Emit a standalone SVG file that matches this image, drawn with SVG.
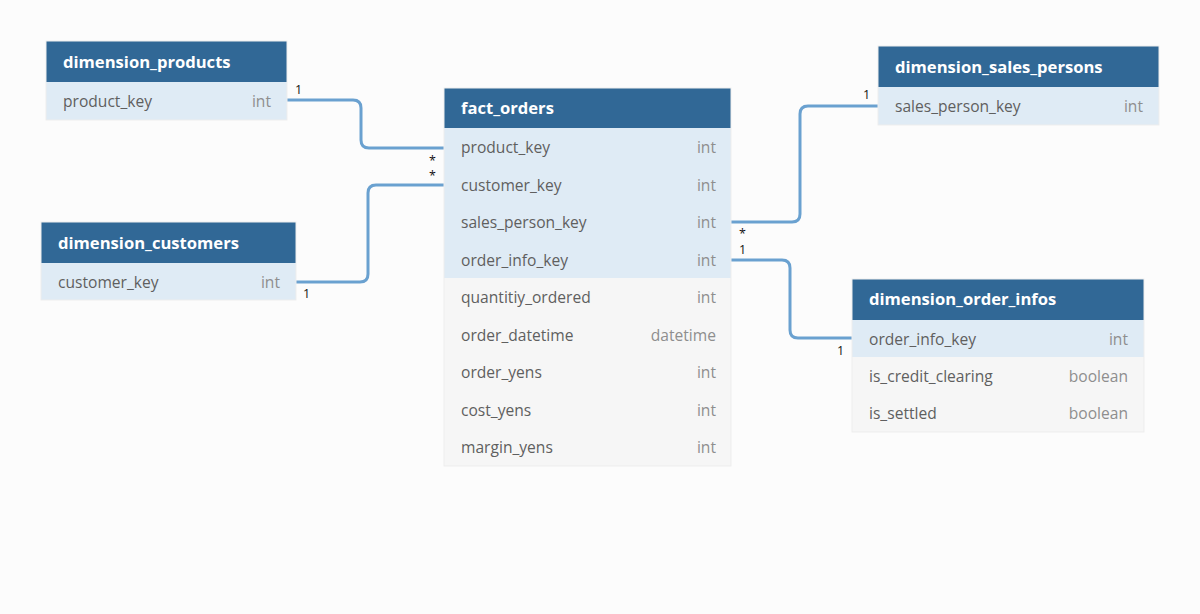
<svg xmlns="http://www.w3.org/2000/svg" width="1200" height="614" viewBox="0 0 1200 614">
<style>
.bg{fill:#fcfcfc}
.hd{fill:#316896}
.pk{fill:#dfebf5}
.rw{fill:#f6f6f6}
.bd{fill:none;stroke:#ededed;stroke-width:1}
.ht{font-family:"Open Sans","Liberation Sans",sans-serif;font-size:16.6px;font-weight:bold;fill:#ffffff}
.ft{font-family:"Open Sans","Liberation Sans",sans-serif;font-size:15.6px;fill:#5f5f5f}
.ty{font-family:"Open Sans","Liberation Sans",sans-serif;font-size:15.6px;fill:#8e8e8e;text-anchor:end}
.cn{fill:none;stroke:#6aa1d0;stroke-width:3}
.lb{font-family:"Open Sans","Liberation Sans",sans-serif;font-size:12.5px;fill:#111111}
</style>
<rect class="bg" x="0" y="0" width="1200" height="614"/>
<g id="connectors">
<path class="cn" d="M287,100 H353 Q361,100 361,108 V140 Q361,148 369,148 H444"/>
<path class="cn" d="M296,282 H360 Q368,282 368,274 V193 Q368,185 376,185 H444"/>
<path class="cn" d="M731,222 H792 Q800,222 800,214 V114 Q800,106 808,106 H878"/>
<path class="cn" d="M731,260 H782 Q790,260 790,268 V330 Q790,338 798,338 H852"/>
<text class="lb" x="295" y="94">1</text>
<text class="lb" x="429" y="165">*</text>
<text class="lb" x="429" y="180">*</text>
<text class="lb" x="303" y="298">1</text>
<text class="lb" x="739" y="238">*</text>
<text class="lb" x="739" y="254">1</text>
<text class="lb" x="863" y="99">1</text>
<text class="lb" x="837" y="355">1</text>
</g>
<g id="dimension_products">
<rect class="hd" x="46" y="41" width="241" height="41"/>
<rect class="pk" x="46" y="82" width="241" height="38"/>
<rect class="bd" x="46" y="41" width="241" height="79"/>
<text class="ht" x="63" y="68">dimension_products</text>
<text class="ft" x="63" y="107">product_key</text>
<text class="ty" x="271" y="107">int</text>
</g>
<g id="dimension_customers">
<rect class="hd" x="41" y="222" width="255" height="41"/>
<rect class="pk" x="41" y="263" width="255" height="37"/>
<rect class="bd" x="41" y="222" width="255" height="78"/>
<text class="ht" x="58" y="249">dimension_customers</text>
<text class="ft" x="58" y="288">customer_key</text>
<text class="ty" x="280" y="288">int</text>
</g>
<g id="fact_orders">
<rect class="hd" x="444" y="88" width="287" height="40"/>
<rect class="pk" x="444" y="128" width="287" height="150"/>
<rect class="rw" x="444" y="278" width="287" height="188"/>
<rect class="bd" x="444" y="88" width="287" height="378"/>
<text class="ht" x="461" y="114">fact_orders</text>
<text class="ft" x="461" y="153">product_key</text><text class="ty" x="716" y="153">int</text>
<text class="ft" x="461" y="191">customer_key</text><text class="ty" x="716" y="191">int</text>
<text class="ft" x="461" y="228">sales_person_key</text><text class="ty" x="716" y="228">int</text>
<text class="ft" x="461" y="266">order_info_key</text><text class="ty" x="716" y="266">int</text>
<text class="ft" x="461" y="303">quantitiy_ordered</text><text class="ty" x="716" y="303">int</text>
<text class="ft" x="461" y="341">order_datetime</text><text class="ty" x="716" y="341">datetime</text>
<text class="ft" x="461" y="378">order_yens</text><text class="ty" x="716" y="378">int</text>
<text class="ft" x="461" y="416">cost_yens</text><text class="ty" x="716" y="416">int</text>
<text class="ft" x="461" y="453">margin_yens</text><text class="ty" x="716" y="453">int</text>
</g>
<g id="dimension_sales_persons">
<rect class="hd" x="878" y="46" width="281" height="41"/>
<rect class="pk" x="878" y="87" width="281" height="38"/>
<rect class="bd" x="878" y="46" width="281" height="79"/>
<text class="ht" x="895" y="73">dimension_sales_persons</text>
<text class="ft" x="895" y="112">sales_person_key</text>
<text class="ty" x="1143" y="112">int</text>
</g>
<g id="dimension_order_infos">
<rect class="hd" x="852" y="279" width="292" height="41"/>
<rect class="pk" x="852" y="320" width="292" height="37"/>
<rect class="rw" x="852" y="357" width="292" height="75"/>
<rect class="bd" x="852" y="279" width="292" height="153"/>
<text class="ht" x="869" y="305">dimension_order_infos</text>
<text class="ft" x="869" y="345">order_info_key</text><text class="ty" x="1128" y="345">int</text>
<text class="ft" x="869" y="382">is_credit_clearing</text><text class="ty" x="1128" y="382">boolean</text>
<text class="ft" x="869" y="419">is_settled</text><text class="ty" x="1128" y="419">boolean</text>
</g>
</svg>
